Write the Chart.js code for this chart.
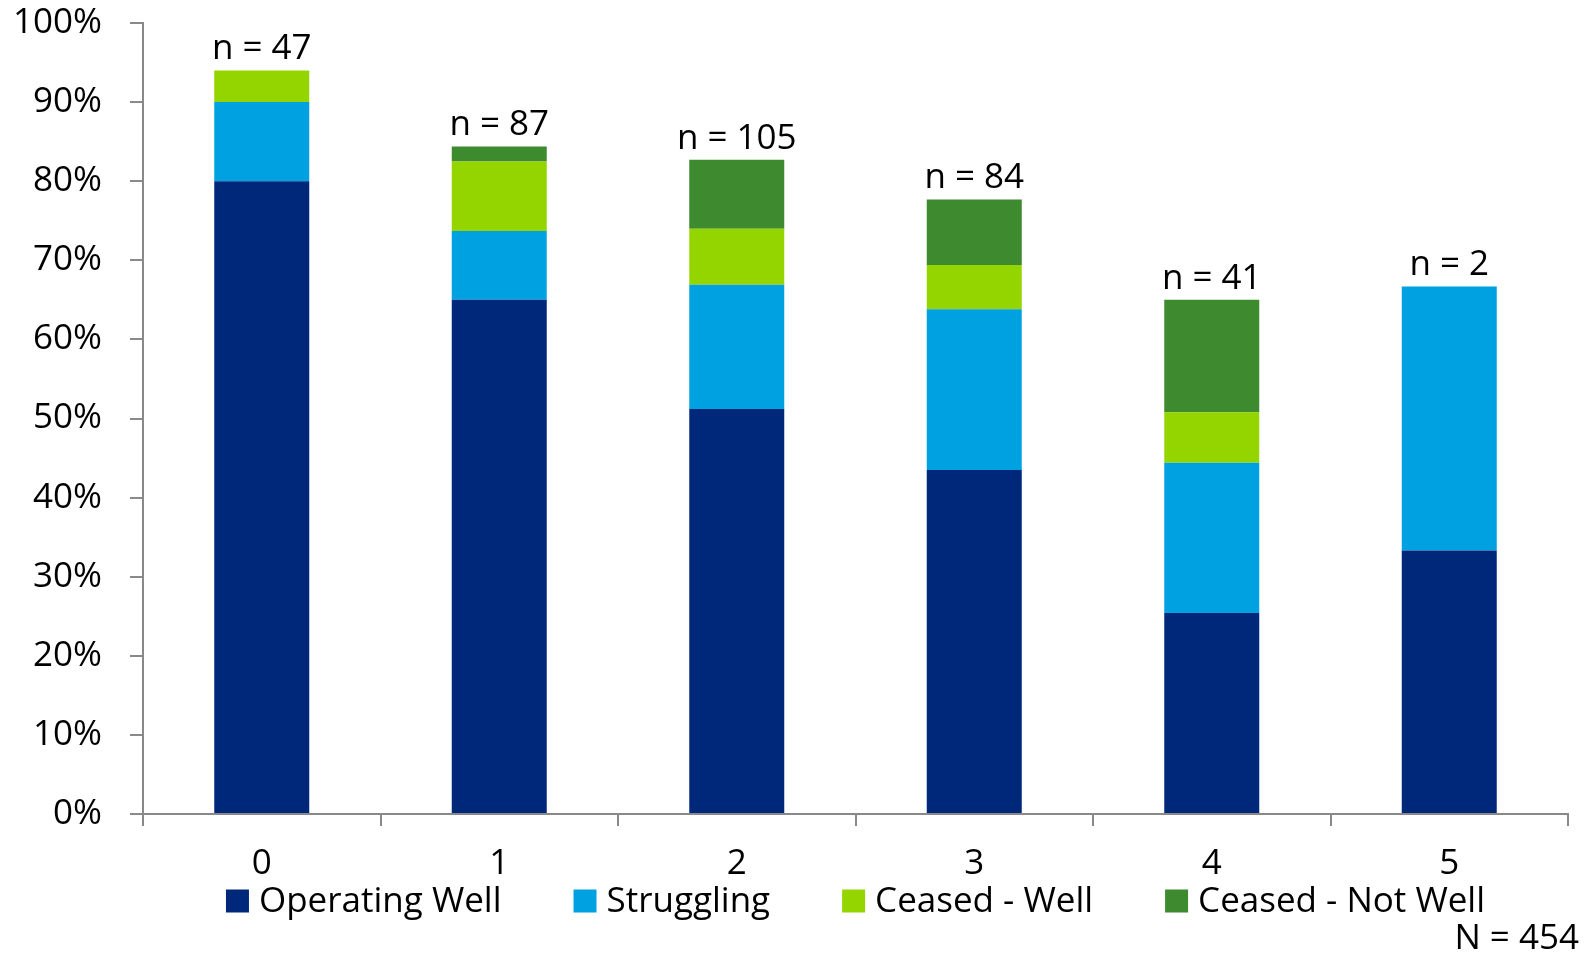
<!DOCTYPE html>
<html>
<head>
<meta charset="utf-8">
<script src="https://cdn.jsdelivr.net/npm/chart.js@4.4.1/dist/chart.umd.min.js"></script>
<style>
  html, body { margin: 0; padding: 0; background: #fff; }
  #chart { display: block; }
</style>
</head>
<body>
<canvas id="chart" width="1591" height="954"></canvas>
<script>
// values (percent of each group)
const categories = ["0", "1", "2", "3", "4", "5"];
const operatingWell = [80.0, 65.0, 51.2, 43.5, 25.4, 33.3];
const struggling = [10.0, 8.7, 15.7, 20.3, 19.0, 33.4];
const ceasedWell = [4.0, 8.8, 7.1, 5.6, 6.4, 0];
const ceasedNotWell = [0, 1.9, 8.7, 8.3, 14.2, 0];
const sampleSizes = [47, 87, 105, 84, 41, 2];
const totalLabel = "N = 454";

const FONT = "'Open Sans', sans-serif";
const FONT_SIZE = 35;
const AXIS_GREY = "#898989";

// "n = .." above each stacked bar
const sampleLabels = {
  id: "sampleLabels",
  afterDatasetsDraw(chart) {
    const ctx = chart.ctx;
    const xs = chart.scales.x;
    const ys = chart.scales.y;
    ctx.save();
    ctx.font = FONT_SIZE + "px " + FONT;
    ctx.fillStyle = "#000";
    ctx.textAlign = "center";
    ctx.textBaseline = "alphabetic";
    categories.forEach((c, i) => {
      const total = operatingWell[i] + struggling[i] + ceasedWell[i] + ceasedNotWell[i];
      ctx.fillText("n = " + sampleSizes[i], xs.getPixelForValue(i), ys.getPixelForValue(total) - 11);
    });
    ctx.restore();
  }
};

// legend row centred under the plot area, plus the N label
const bottomLegend = {
  id: "bottomLegend",
  afterDraw(chart) {
    const ctx = chart.ctx;
    const area = chart.chartArea;
    const box = 23, gap = 10, spacing = 72;
    ctx.save();
    ctx.font = FONT_SIZE + "px " + FONT;
    ctx.textBaseline = "middle";
    ctx.textAlign = "left";
    const items = chart.data.datasets.map(ds => ({
      text: ds.label,
      color: ds.backgroundColor,
      w: ctx.measureText(ds.label).width
    }));
    const total = items.reduce((s, it) => s + box + gap + it.w, 0) + spacing * (items.length - 1);
    let x = (area.left + area.right) / 2 - total / 2;
    const y = area.bottom + 87;
    items.forEach(it => {
      ctx.fillStyle = it.color;
      ctx.fillRect(x, y - box / 2, box, box);
      ctx.fillStyle = "#000";
      ctx.fillText(it.text, x + box + gap, y + 1);
      x += box + gap + it.w + spacing;
    });
    ctx.textAlign = "right";
    ctx.fillText(totalLabel, chart.width - 12, y + 38);
    ctx.restore();
  }
};

new Chart(document.getElementById("chart").getContext("2d"), {
  type: "bar",
  data: {
    labels: categories,
    datasets: [
      { label: "Operating Well", data: operatingWell, backgroundColor: "#00287A" },
      { label: "Struggling", data: struggling, backgroundColor: "#00A1E0" },
      { label: "Ceased - Well", data: ceasedWell, backgroundColor: "#94D500" },
      { label: "Ceased - Not Well", data: ceasedNotWell, backgroundColor: "#3D8A2F" }
    ]
  },
  options: {
    responsive: false,
    animation: false,
    layout: { padding: { top: 23, right: 23, left: 0, bottom: 80 } },
    datasets: {
      bar: { categoryPercentage: 1.0, barPercentage: 0.4, borderWidth: 0 }
    },
    plugins: {
      legend: { display: false },
      title: { display: false },
      tooltip: { enabled: false }
    },
    scales: {
      x: {
        stacked: true,
        grid: { display: true, drawOnChartArea: false, tickLength: 12, color: AXIS_GREY, lineWidth: 2, offset: true },
        border: { color: AXIS_GREY, width: 2 },
        ticks: { color: "#000", font: { family: FONT, size: FONT_SIZE }, padding: 17 },
        afterFit(scale) { scale.height = 60; }
      },
      y: {
        stacked: true,
        min: 0,
        max: 100,
        grid: { display: true, drawOnChartArea: false, tickLength: 13, color: AXIS_GREY, lineWidth: 2 },
        border: { color: AXIS_GREY, width: 2 },
        ticks: {
          stepSize: 10,
          color: "#000",
          font: { family: FONT, size: FONT_SIZE },
          padding: 28,
          callback: v => v + "%"
        },
        afterFit(scale) {
          scale.width = 143;
          scale.paddingTop = 0;
          scale.paddingBottom = 0;
        }
      }
    }
  },
  plugins: [sampleLabels, bottomLegend]
});
</script>
</body>
</html>
